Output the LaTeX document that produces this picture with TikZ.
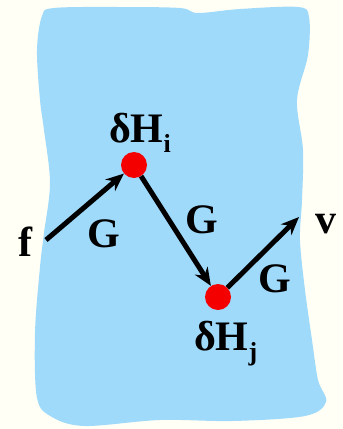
\documentclass[tikz,border=0pt]{standalone}
\usepackage{fontspec}
\setmainfont{Liberation Serif}
\usetikzlibrary{arrows.meta}
\definecolor{cream}{RGB}{255,255,245}
\definecolor{skyblob}{RGB}{160,218,251}
\definecolor{dotred}{RGB}{245,0,0}
\begin{document}
\begin{tikzpicture}[
        x=1pt, y=-1pt,
        every node/.style={font=\fontsize{42}{46}\selectfont\bfseries, inner sep=0pt, anchor=base},
        vertex/.style={circle, fill=dotred, minimum size=26pt, inner sep=0pt, anchor=center},
        arrow/.style={line width=5pt,->,>={Stealth[length=18pt,width=15pt]}}
    ]
    % Background and medium
    \useasboundingbox[fill=cream] (0,0) rectangle (343,429);
    \fill[skyblob] plot[smooth cycle, tension=0.55] coordinates {
        (54,8) (120,7) (180,8) (198,13) (240,9) (298,7) (309,17) (308,55)
        (297,100) (303,150) (302,200) (300,240) (305,290) (312,340)
        (318,380) (326,402) (305,416) (233,421) (160,420) (85,426)
        (52,417) (37,398) (35,333) (40,267) (44,233) (50,183) (44,130)
        (40,100) (37,50) (42,16)};

    % Nodes
    \node (f) at (25,256) {f};
    \node (v) at (326,233) {v};
    \node[vertex] (Hi) at (134,165) {};
    \node[vertex] (Hj) at (218,297) {};
    \node (Hilab) [anchor=base west] at (109,142) {δH\raisebox{-10pt}{\fontsize{26}{28}\selectfont i}};
    \node (Hjlab) [anchor=base west] at (194,350) {δH\raisebox{-10pt}{\fontsize{26}{28}\selectfont j}};
    \node (G1) at (104,247) {G};
    \node (G2) at (202,233) {G};
    \node (G3) at (275,292) {G};
    \coordinate (fout) at (46,240);
    \coordinate (vin) at (299,217);

    % Arrows
    \draw [arrow] (fout) -- (Hi);
    \draw [arrow] (Hi) -- (Hj);
    \draw [arrow] (Hj) -- (vin);
\end{tikzpicture}
\end{document}
